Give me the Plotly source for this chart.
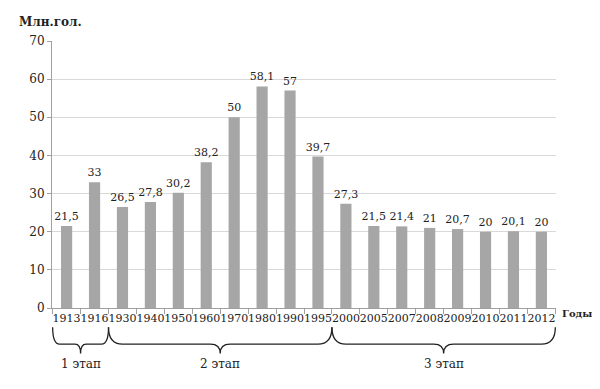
import plotly.graph_objects as go

years = ["1913", "1916", "1930", "1940", "1950", "1960", "1970", "1980", "1990",
         "1995", "2000", "2005", "2007", "2008", "2009", "2010", "2011", "2012"]
values = [21.5, 33, 26.5, 27.8, 30.2, 38.2, 50, 58.1, 57, 39.7,
          27.3, 21.5, 21.4, 21, 20.7, 20, 20.1, 20]
stage_labels = ["1 этап", "2 этап", "3 этап"]
stage_bounds = [(-0.5, 1.5), (1.5, 9.5), (9.5, 17.5)]

labels = [(f"{v:g}").replace(".", ",") for v in values]

FONT = "DejaVu Serif"
TXT = "#222222"

fig = go.Figure(go.Bar(
    x=years, y=values, text=labels, textposition="outside",
    textangle=0, constraintext="none",
    textfont=dict(family=FONT, size=11, color=TXT),
    marker=dict(color="#a6a6a6", line=dict(width=0)),
    width=0.4, cliponaxis=False,
))

fig.update_layout(
    width=600, height=389,
    margin=dict(l=44, r=52, t=33, b=89),
    plot_bgcolor="white", paper_bgcolor="white",
    showlegend=False,
    font=dict(family=FONT, size=11, color=TXT),
    xaxis=dict(type="category", showgrid=False, showline=True, linecolor="#a0a0a0",
               ticks="outside", tickson="boundaries", ticklen=5, tickcolor="#a0a0a0",
               tickangle=0,
               tickfont=dict(family=FONT, size=11, color=TXT)),
    yaxis=dict(range=[0, 70], dtick=10, showgrid=True, gridcolor="#d9d9d9",
               showline=True, linecolor="#a0a0a0", ticks="outside", ticklen=4,
               tickcolor="#a0a0a0", zeroline=False,
               tickfont=dict(family=FONT, size=12, color=TXT)),
)

yt, yb, yc = -0.072, -0.135, -0.17
for (a, b), lab in zip(stage_bounds, stage_labels):
    m = (a + b) / 2
    d = 0.25 if (b - a) < 3 else 0.5
    dm = 0.2 if (b - a) < 3 else 0.35
    path = (f"M {a},{yt} Q {a},{yb} {a+d},{yb} L {m-dm},{yb} Q {m},{yb} {m},{yc} "
            f"Q {m},{yb} {m+dm},{yb} L {b-d},{yb} Q {b},{yb} {b},{yt}")
    fig.add_shape(type="path", path=path, xref="x", yref="paper",
                  line=dict(color=TXT, width=1.3))
    fig.add_annotation(x=m, y=-0.243, xref="x", yref="paper", text=lab,
                       showarrow=False, font=dict(family=FONT, size=12, color=TXT))

fig.add_annotation(x=(42 - 44) / 504, y=(300 - 14) / 267, xref="paper", yref="paper",
                   text="<b>Млн.гол.</b>", showarrow=False, xanchor="center",
                   yanchor="middle", font=dict(family=FONT, size=12, color=TXT))
fig.add_annotation(x=(552 - 44) / 504, y=-0.019, xref="paper", yref="paper",
                   text="<b>Годы</b>", xanchor="left", yanchor="middle",
                   showarrow=False, font=dict(family=FONT, size=10, color=TXT))

fig.write_html("out.html")
